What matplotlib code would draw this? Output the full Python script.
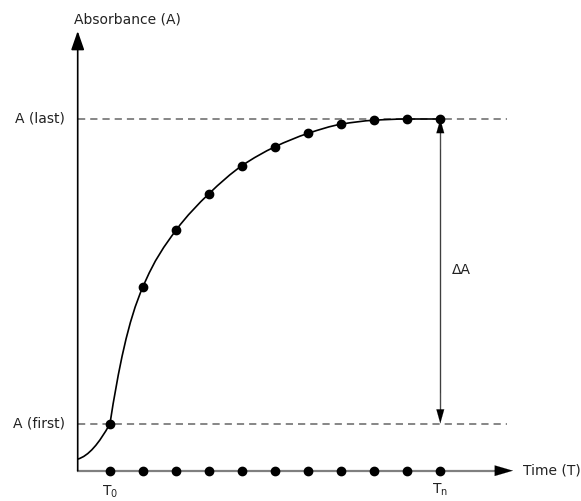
import numpy as np
import matplotlib.pyplot as plt
from matplotlib.path import Path
from matplotlib.patches import PathPatch

plt.rcParams['font.family'] = ['DejaVu Sans']
plt.rcParams['lines.scale_dashes'] = False

# sampling times T0 .. Tn (index) and absorbance read at each one
# absorbance is normalised so that A(first) = 0 and A(last) = 1
times = [0, 1, 2, 3, 4, 5, 6, 7, 8, 9, 10]
absorbance = [0.0, 0.449, 0.635, 0.755, 0.847, 0.909, 0.953, 0.983, 0.996, 1.0, 1.0]

# the trace starts at the y axis, a bit before T0
lead_time = -0.98
lead_abs = -0.117

# pixel layout -> data units (figure is 581x501 px, axes fill it)
def px_t(px):
    return (px - 110) / 33.03

def py_a(py):
    return (423.5 - py) / 304.5

axis_t = px_t(77.7)
axis_a = py_a(470.7)
text_col = '#222222'


def pchip_slopes(x, y):
    x = np.asarray(x, float)
    y = np.asarray(y, float)
    h = np.diff(x)
    d = np.diff(y) / h
    m = np.zeros(len(x))
    for k in range(1, len(x) - 1):
        if d[k - 1] * d[k] > 0:
            w1 = 2 * h[k] + h[k - 1]
            w2 = h[k] + 2 * h[k - 1]
            m[k] = (w1 + w2) / (w1 / d[k - 1] + w2 / d[k])
    m[0] = d[0] * 0.5
    m[-1] = 0.0
    return m


fig = plt.figure(figsize=(5.81, 5.01), dpi=100)
ax = fig.add_axes([0, 0, 1, 1])
ax.set_xlim(px_t(0), px_t(581))
ax.set_ylim(py_a(501), py_a(0))
ax.axis('off')

# dashed reference levels
for lvl in (absorbance[0], absorbance[-1]):
    ax.plot([axis_t, px_t(507)], [lvl, lvl], color='#666666', lw=1.1,
            linestyle=(0, (5.2, 3.6)), zorder=1)

# smooth trace through the samples (cubic bezier segments)
xs = [lead_time] + times
ys = [lead_abs] + absorbance
m = pchip_slopes(xs, ys)
n = len(xs)
slope_out = m.copy()
slope_in = m.copy()
h = np.diff(xs)
len_out = np.append(h / 3, 0)
len_in = np.insert(h / 3, 0, 0)
# hand-drawn look: the trace turns sharply upward at T0
slope_out[0] = 0.03
slope_in[1] = 0.2
slope_out[1], len_out[1] = 0.7, 0.25
slope_in[2], len_in[2] = 0.24, 0.45

verts = [(xs[0], ys[0])]
codes = [Path.MOVETO]
for k in range(n - 1):
    verts += [(xs[k] + len_out[k], ys[k] + slope_out[k] * len_out[k]),
              (xs[k + 1] - len_in[k + 1], ys[k + 1] - slope_in[k + 1] * len_in[k + 1]),
              (xs[k + 1], ys[k + 1])]
    codes += [Path.CURVE4] * 3
ax.add_patch(PathPatch(Path(verts, codes), facecolor='none', edgecolor='black',
                       lw=1.2, zorder=3))
ax.plot(times, absorbance, 'o', color='black', ms=6, zorder=4)

# time axis (grey) with black head
ax.plot([axis_t, px_t(497)], [axis_a, axis_a], color='#808080', lw=1.6, zorder=2)
ax.annotate('', xy=(px_t(513), axis_a), xytext=(px_t(494), axis_a),
            arrowprops=dict(arrowstyle='-|>,head_length=1.3,head_width=0.38',
                            color='black', lw=0.1, shrinkA=0, shrinkB=0,
                            mutation_scale=10))
ax.plot(times, [axis_a] * len(times), 'o', color='black', ms=6, zorder=4)

# absorbance axis
ax.annotate('', xy=(axis_t, py_a(31)), xytext=(axis_t, axis_a),
            arrowprops=dict(arrowstyle='-|>,head_length=1.15,head_width=0.4',
                            color='black', lw=1.2, shrinkA=0, shrinkB=0,
                            mutation_scale=10))

# delta A double arrow
ax.plot([times[-1], times[-1]], [absorbance[0] + 0.04, absorbance[-1] - 0.04],
        color='#555555', lw=1.0, zorder=2)
for a_from, a_to in ((absorbance[0] + 0.1, absorbance[-1]),
                     (absorbance[-1] - 0.1, absorbance[0])):
    ax.annotate('', xy=(times[-1], a_to), xytext=(times[-1], a_from),
                arrowprops=dict(arrowstyle='-|>,head_length=1.0,head_width=0.28',
                                color='black', lw=0.1, shrinkA=0, shrinkB=0,
                                mutation_scale=10), zorder=5)

fs = 10
ax.text(px_t(74), py_a(19.5), 'Absorbance (A)', ha='left', va='center',
        fontsize=fs, color=text_col)
ax.text(px_t(65), absorbance[-1], 'A (last)', ha='right', va='center',
        fontsize=fs, color=text_col)
ax.text(px_t(65), absorbance[0], 'A (first)', ha='right', va='center',
        fontsize=fs, color=text_col)
ax.text(px_t(523), axis_a, 'Time (T)', ha='left', va='center',
        fontsize=fs, color=text_col)
ax.text(px_t(452), py_a(270), '\u0394A', ha='left', va='center',
        fontsize=fs, color=text_col)
ax.text(times[0], py_a(492), r'T$_\mathregular{0}$', ha='center', va='center',
        fontsize=fs, color=text_col)
ax.text(times[-1], py_a(490), r'T$_\mathregular{n}$', ha='center', va='center',
        fontsize=fs, color=text_col)

fig.savefig('out.png', dpi=100)
